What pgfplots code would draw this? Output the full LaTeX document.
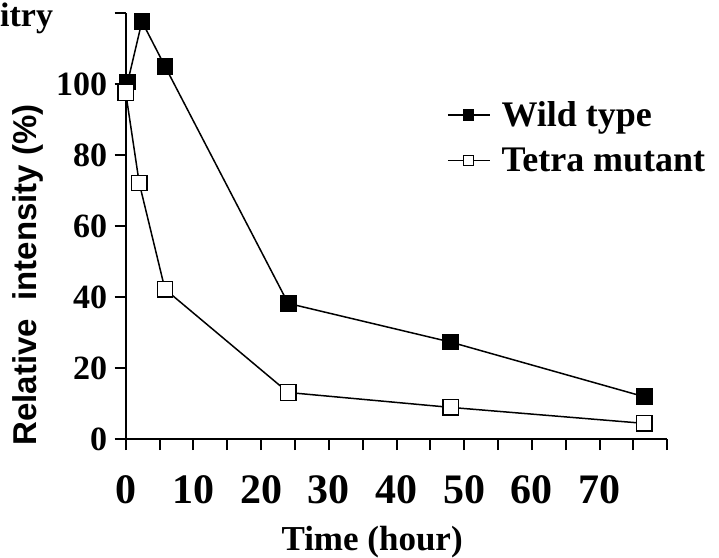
\documentclass[border=0pt]{standalone}
\usepackage{fontspec}
\setmainfont{Liberation Serif}
\setsansfont{Liberation Sans}
\usepackage{pgfplots}
\pgfplotsset{compat=1.18}

\begin{document}
\begin{tikzpicture}
\useasboundingbox (-125.7bp,-119bp) rectangle (593.3bp,439bp);
\begin{axis}[
    at={(0,0)}, anchor=origin,
    x=6.77bp, y=3.55bp,
    xmin=0, xmax=80, ymin=0, ymax=120,
    axis x line=bottom, axis y line=left,
    axis line style={line width=2bp, -},
    clip=false,
    xtick={0,10,...,70},
    minor xtick={5,15,...,75,80},
    ytick={0,20,...,120},
    yticklabels={0,20,40,60,80,100,{}},
    tick align=outside,
    tick style={line width=2bp, black},
    major tick length=11bp, minor tick length=11bp,
    /pgf/number format/assume math mode=true,
    xticklabel style={font=\fontsize{42bp}{42bp}\selectfont\bfseries, yshift=-22bp},
    yticklabel style={font=\fontsize{34bp}{34bp}\selectfont\bfseries, xshift=-4bp},
    xlabel={Time (hour)},
    xlabel style={font=\fontsize{35bp}{35bp}\selectfont\bfseries,
        at={(rel axis cs:0.455,-0.261)}, anchor=base},
    ylabel={Relative\ \ intensity (\%)},
    ylabel style={font=\fontsize{33bp}{33bp}\selectfont\sffamily\bfseries,
        at={(rel axis cs:-0.181,0.385)}, anchor=center},
    legend style={draw=none, fill=none, inner sep=0pt, row sep=16bp, column sep=9bp,
        at={(rel axis cs:0.593,0.797)}, anchor=north west,
        font=\fontsize{36bp}{36bp}\selectfont\bfseries},
    legend cell align=left,
    legend image code/.code={\draw[mark repeat=2,mark phase=2,#1,mark size=5bp]
        plot coordinates {(0bp,0bp) (21bp,0bp) (42bp,0bp)};},
]
% Wild type
\addplot[black, line width=1.5bp, mark=square*, mark size=7.7bp,
    mark options={solid, fill=black, line width=1.3bp}] coordinates {
    (0.3,100.6) (2.4,117.6) (5.8,105) (24,38.2) (48,27.3) (76.6,11.9)
};
\addlegendentry{Wild type}
% Tetra mutant
\addplot[black, line width=1.5bp, mark=square*, mark size=7.7bp,
    mark options={solid, fill=white, line width=1.3bp}] coordinates {
    (0,97.6) (2,72.1) (5.8,42.2) (24,13.1) (48,8.9) (76.6,4.4)
};
\addlegendentry{Tetra mutant}
\end{axis}
\node[anchor=base west, inner sep=0pt, font=\fontsize{34bp}{34bp}\selectfont\bfseries]
    at (-125.7bp,412bp) {itry};
\end{tikzpicture}
\end{document}
